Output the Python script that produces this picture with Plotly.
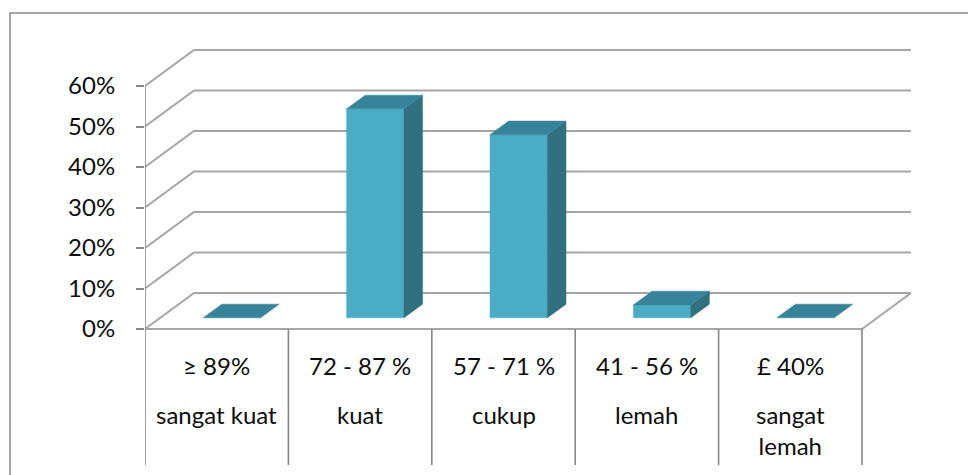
import plotly.graph_objects as go

# ---------------- data ----------------
range_labels = ["≥ 89%", "72 - 87 %", "57 - 71 %", "41 - 56 %", "£ 40%"]
name_labels = ["sangat kuat", "kuat", "cukup", "lemah", "sangat<br>lemah"]
values = [0.0, 0.516, 0.452, 0.032, 0.0]
tick_values = [0.0, 0.1, 0.2, 0.3, 0.4, 0.5, 0.6]
tick_labels = ["0%", "10%", "20%", "30%", "40%", "50%", "60%"]

# ---------------- geometry / style ----------------
W, H = 976, 475
OFF = 8               # page body margin
ML, MR, MT, MB = 145 - OFF, 56 + OFF, 40 - OFF, 5 + OFF
PX_X = 143.4          # pixels per category
PX_Y = 405.0          # pixels per 100%
ZERO_PX = 329 - OFF   # pixel row of 0% at the front (figure coords)
plot_w = W - ML - MR
plot_h = H - MT - MB
x_range = [-0.5, -0.5 + plot_w / PX_X]
y_range = [-(H - MB - ZERO_PX) / PX_Y, (ZERO_PX - MT) / PX_Y]

DX = 49 / PX_X        # depth offset in x units
DY = 36 / PX_Y        # depth offset in y units
D_FRONT, D_BACK = 0.31, 0.69
BAR_W = 0.40
LABEL_DROP = 0.336    # how far category dividers go below the floor

C_FRONT = "#4BACC6"
C_SIDE = "#31707F"
C_TOP = "#37849A"
C_GRID = "#a6a6a6"
C_AXIS = "#878787"
C_TEXT = "#0d0d0d"
FONT = "Lato"
FS = 24

n = len(values)
x_lo, x_hi = -0.5, n - 0.5
y_top = max(tick_values)

fig = go.Figure()

# ---- walls / gridlines ----
gx, gy = [], []
for v in tick_values:
    gx += [x_lo, x_lo + DX, x_hi + DX, None]
    gy += [v, v + DY, v + DY, None]
gx += [x_lo, x_hi, x_hi + DX, None]
gy += [0, 0, DY, None]
fig.add_trace(go.Scatter(x=gx, y=gy, mode="lines",
                         line=dict(color=C_GRID, width=2),
                         hoverinfo="skip", showlegend=False))

# ---- front axis line + category dividers ----
ax, ay = [x_lo, x_lo, None], [y_top, -LABEL_DROP, None]
for i in range(1, n + 1):
    xb = i - 0.5
    ax += [xb, xb, None]
    ay += [0, -LABEL_DROP, None]
fig.add_trace(go.Scatter(x=ax, y=ay, mode="lines",
                         line=dict(color=C_AXIS, width=1.6),
                         hoverinfo="skip", showlegend=False))

# ---- 3D columns ----
ddx = (D_BACK - D_FRONT) * DX
ddy = (D_BACK - D_FRONT) * DY
for i, v in enumerate(values):
    x0 = i - BAR_W / 2 + D_FRONT * DX
    x1 = i + BAR_W / 2 + D_FRONT * DX
    y0 = D_FRONT * DY
    if v > 0:
        fig.add_trace(go.Scatter(x=[x0, x1, x1, x0, x0], y=[y0, y0, y0 + v, y0 + v, y0],
                                 mode="lines", fill="toself", fillcolor=C_FRONT,
                                 line=dict(color=C_FRONT, width=0.5),
                                 hoverinfo="skip", showlegend=False))
        fig.add_trace(go.Scatter(x=[x1, x1, x1 + ddx, x1 + ddx, x1],
                                 y=[y0, y0 + v, y0 + v + ddy, y0 + ddy, y0],
                                 mode="lines", fill="toself", fillcolor=C_SIDE,
                                 line=dict(color=C_SIDE, width=0.5),
                                 hoverinfo="skip", showlegend=False))
    yt = y0 + v
    fig.add_trace(go.Scatter(x=[x0, x1, x1 + ddx, x0 + ddx, x0],
                             y=[yt, yt, yt + ddy, yt + ddy, yt],
                             mode="lines", fill="toself", fillcolor=C_TOP,
                             line=dict(color=C_TOP, width=0.5),
                             hoverinfo="skip", showlegend=False))

# ---- category labels ----
for i in range(n):
    fig.add_annotation(x=i, y=-36 / PX_Y, xref="x", yref="y", text=range_labels[i],
                       showarrow=False, xanchor="center", yanchor="middle",
                       font=dict(family=FONT, size=FS, color=C_TEXT))
    fig.add_annotation(x=i, y=-69 / PX_Y, xref="x", yref="y", text=name_labels[i],
                       showarrow=False, xanchor="center", yanchor="top",
                       font=dict(family=FONT, size=FS, color=C_TEXT))

# ---- outer chart border ----
def px_to_paper_x(px):
    return (px - OFF - ML) / plot_w

def px_to_paper_y(py):
    return (H - MB - (py - OFF)) / plot_h

fig.add_shape(type="rect", xref="paper", yref="paper",
              x0=px_to_paper_x(10), x1=px_to_paper_x(W + 30),
              y0=px_to_paper_y(H + 30), y1=px_to_paper_y(13),
              line=dict(color="#8a8a8a", width=1.5), fillcolor="rgba(0,0,0,0)", layer="below")

fig.update_layout(
    width=W, height=H,
    margin=dict(l=ML, r=MR, t=MT, b=MB),
    paper_bgcolor="white", plot_bgcolor="white",
    font=dict(family=FONT, size=FS, color=C_TEXT),
    xaxis=dict(range=x_range, visible=False, fixedrange=True),
    yaxis=dict(range=y_range, tickvals=tick_values, ticktext=tick_labels,
               ticks="outside", ticklen=8, tickcolor=C_AXIS, tickwidth=1.6,
               ticklabelstandoff=16, showline=False, showgrid=False, zeroline=False,
               fixedrange=True, tickfont=dict(family=FONT, size=FS, color=C_TEXT)),
    showlegend=False,
)

fig.write_html("out.html")
